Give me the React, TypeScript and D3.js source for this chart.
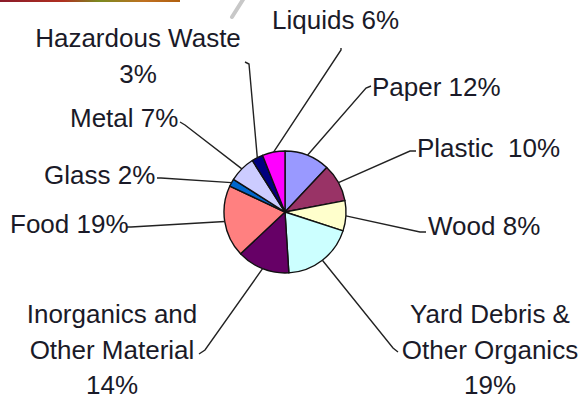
import React, { useEffect, useRef } from "react";
import * as d3 from "d3";

// waste composition, clockwise from 12 o'clock
const categories = [
  "Paper",
  "Plastic",
  "Wood",
  "Yard Debris & Other Organics",
  "Inorganics and Other Material",
  "Food",
  "Glass",
  "Metal",
  "Hazardous Waste",
  "Liquids",
];
const shares = [12, 10, 8, 19, 14, 19, 2, 7, 3, 6];
// label text lines, the percentage gets appended to the last one
const labelNames = [
  ["Paper "],
  ["Plastic  "],
  ["Wood "],
  ["Yard Debris &", "Other Organics", ""],
  ["Inorganics and", "Other Material", ""],
  ["Food "],
  ["Glass "],
  ["Metal "],
  ["Hazardous Waste", ""],
  ["Liquids "],
];
const colors = [
  "#9999FF",
  "#993366",
  "#FFFFCC",
  "#CCFFFF",
  "#660066",
  "#FF8080",
  "#0066CC",
  "#CCCCFF",
  "#000080",
  "#FF00FF",
];

// where each label sits and where its leader line bends (layout only)
const labelLayout: Record<string, { x: number; y: number; anchor: string; knee: [number, number]; end: [number, number] }> = {
  "Paper": { x: 372, y: 96, anchor: "start", knee: [366, 88], end: [371, 86] },
  "Plastic": { x: 417, y: 157, anchor: "start", knee: [410, 151], end: [416, 151] },
  "Wood": { x: 428, y: 235, anchor: "start", knee: [420, 232], end: [426, 232] },
  "Yard Debris & Other Organics": { x: 490, y: 323, anchor: "middle", knee: [393, 348], end: [398, 352] },
  "Inorganics and Other Material": { x: 112, y: 323, anchor: "middle", knee: [205, 350], end: [199, 354] },
  "Food": { x: 10, y: 233, anchor: "start", knee: [131, 227], end: [127, 227] },
  "Glass": { x: 44, y: 184, anchor: "start", knee: [161, 178], end: [157, 178] },
  "Metal": { x: 70, y: 127, anchor: "start", knee: [185, 125], end: [180, 122] },
  "Hazardous Waste": { x: 138, y: 47, anchor: "middle", knee: [249, 64], end: [245, 62] },
  "Liquids": { x: 272, y: 29, anchor: "start", knee: [341, 50], end: [341, 48] },
};

const App = () => {
  const ref = useRef<SVGSVGElement>(null);

  useEffect(() => {
    const svg = d3.select(ref.current);
    svg.selectAll("*").remove();

    const cx = 285;
    const cy = 212;
    const r = 61;
    const lineH = 35.5;

    const data = categories.map((c, i) => ({ name: c, value: shares[i], color: colors[i], lines: labelNames[i] }));

    // scan artifacts at the top of the original picture
    const grad = svg.append("defs").append("linearGradient").attr("id", "strip");
    [["0%", "#8a1a2a"], ["35%", "#b03020"], ["55%", "#7a8a20"], ["80%", "#c07020"], ["100%", "#b06010"]].forEach(([o, c]) =>
      grad.append("stop").attr("offset", o).attr("stop-color", c)
    );
    svg.append("rect").attr("x", 0).attr("y", 0).attr("width", 180).attr("height", 2).attr("fill", "url(#strip)");
    svg.append("line")
      .attr("x1", 244).attr("y1", -2).attr("x2", 232).attr("y2", 17)
      .attr("stroke", "#c8c8c8").attr("stroke-width", 4).attr("stroke-linecap", "round");

    const pie = d3.pie<any>().value(d => d.value).sort(null);
    const arcs = pie(data);
    const arc = d3.arc<any>().innerRadius(0).outerRadius(r);
    const edge = d3.arc<any>().innerRadius(r).outerRadius(r);

    const g = svg.append("g").attr("transform", `translate(${cx},${cy})`);
    g.selectAll("path")
      .data(arcs)
      .enter()
      .append("path")
      .attr("d", arc)
      .attr("fill", d => d.data.color)
      .attr("stroke", "#111")
      .attr("stroke-width", 1.4)
      .attr("stroke-linejoin", "round");

    // leader lines from the rim to each label
    svg.selectAll(".leader")
      .data(arcs)
      .enter()
      .append("polyline")
      .attr("class", "leader")
      .attr("points", d => {
        const [ex, ey] = edge.centroid(d);
        const lay = labelLayout[d.data.name];
        return [[cx + ex, cy + ey], lay.knee, lay.end].map(p => p.join(",")).join(" ");
      })
      .attr("fill", "none")
      .attr("stroke", "#222")
      .attr("stroke-width", 1.4);

    const labels = svg.selectAll(".label")
      .data(arcs)
      .enter()
      .append("text")
      .attr("class", "label")
      .attr("text-anchor", d => labelLayout[d.data.name].anchor)
      .attr("font-family", "'Liberation Sans', Arial, sans-serif")
      .attr("font-size", 26)
      .attr("fill", "#1a1a28");

    labels.each(function (d) {
      const lay = labelLayout[d.data.name];
      const lines = d.data.lines as string[];
      d3.select(this)
        .selectAll("tspan")
        .data(lines)
        .enter()
        .append("tspan")
        .attr("x", lay.x)
        .attr("y", (_, i) => lay.y + i * lineH)
        .style("white-space", "pre")
        .text((t, i) => (i === lines.length - 1 ? `${t}${d.data.value}%` : t));
    });
  }, []);

  return (
    <svg
      ref={ref}
      width={580}
      height={400}
      style={{ position: "absolute", left: 0, top: 0, background: "#fff" }}
    />
  );
};

export default App;
